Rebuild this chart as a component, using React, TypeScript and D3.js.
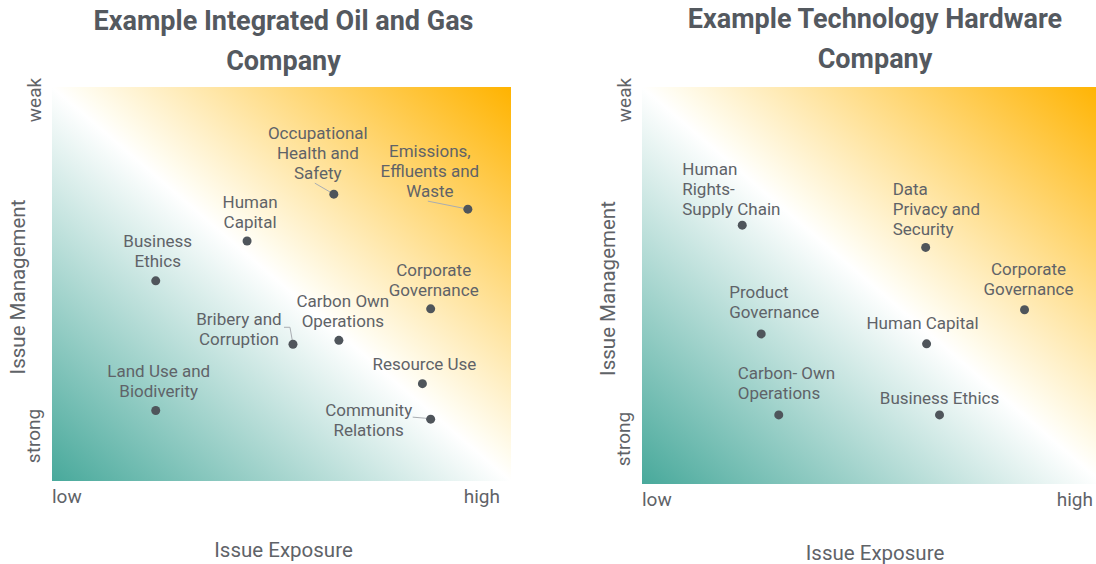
import React from 'react';
import * as d3 from 'd3';

// axis end labels
const exposureEnds = ['low', 'high'];
const managementEnds = ['strong', 'weak'];
const exposureTitle = 'Issue Exposure';
const managementTitle = 'Issue Management';

// left chart
const oilTitle = ['Example Integrated Oil and Gas', 'Company'];
const oilTopics = [
  'Occupational\nHealth and\nSafety',
  'Emissions,\nEffluents and\nWaste',
  'Human\nCapital',
  'Business\nEthics',
  'Corporate\nGovernance',
  'Carbon Own\nOperations',
  'Bribery and\nCorruption',
  'Resource Use',
  'Land Use and\nBiodiverity',
  'Community\nRelations',
];
const oilExposure = [6.14, 9.06, 4.25, 2.26, 8.25, 6.25, 5.25, 8.07, 2.26, 8.25];
const oilManagement = [7.28, 6.9, 6.09, 5.08, 4.37, 3.57, 3.47, 2.47, 1.79, 1.57];

// right chart
const techTitle = ['Example Technology Hardware', 'Company'];
const techTopics = [
  'Human\nRights-\nSupply Chain',
  'Data\nPrivacy and\nSecurity',
  'Corporate\nGovernance',
  'Product\nGovernance',
  'Human Capital',
  'Carbon- Own\nOperations',
  'Business Ethics',
];
const techExposure = [2.17, 6.14, 8.28, 2.58, 6.16, 2.96, 6.44];
const techManagement = [6.52, 5.96, 4.39, 3.78, 3.53, 1.74, 1.74];

// label placement relative to each dot (layout only)
type Lbl = { dx: number; dy: number; anchor: string; leader?: number[][] };
const oilLabels: Lbl[] = [
  { dx: -16, dy: -55, anchor: 'middle', leader: [[-19, -11], [0, 0]] },
  { dx: -38, dy: -52, anchor: 'middle', leader: [[-40, -8], [0, 0]] },
  { dx: 3, dy: -33, anchor: 'middle' },
  { dx: 2, dy: -34, anchor: 'middle' },
  { dx: 3, dy: -33, anchor: 'middle' },
  { dx: 4, dy: -33, anchor: 'middle' },
  { dx: -54, dy: -19, anchor: 'middle', leader: [[-9, -17], [-3, -17], [0, 0]] },
  { dx: 2, dy: -14, anchor: 'middle' },
  { dx: 3, dy: -33, anchor: 'middle' },
  { dx: -62, dy: -3, anchor: 'middle', leader: [[-18, -2], [-6, -1], [0, 0]] },
];
const techLabels: Lbl[] = [
  { dx: -60, dy: -50, anchor: 'start' },
  { dx: -33, dy: -52, anchor: 'start' },
  { dx: 4, dy: -35, anchor: 'middle' },
  { dx: -32, dy: -36, anchor: 'start' },
  { dx: -4, dy: -15, anchor: 'middle' },
  { dx: -41, dy: -36, anchor: 'start' },
  { dx: 0, dy: -11, anchor: 'middle' },
];

const FONT = 'Roboto, "Noto Sans", sans-serif';
const TEXT = '#5f6368';

function Panel(props: any) {
  const { id, box, title, topics, exposure, management, labels } = props;
  const x = d3.scaleLinear().domain([0, 10]).range([box.left, box.right]);
  const y = d3.scaleLinear().domain([0, 10]).range([box.bottom, box.top]);
  const cx = (box.left + box.right) / 2;
  const midY = (box.top + box.bottom) / 2;
  const line = d3.line();

  return (
    <g>
      <defs>
        <linearGradient id={id} x1="0" y1="1" x2="1" y2="0">
          <stop offset="0" stopColor="#48a99b" />
          <stop offset="0.5" stopColor="#ffffff" />
          <stop offset="0.53" stopColor="#fffcef" />
          <stop offset="1" stopColor="#ffb300" />
        </linearGradient>
      </defs>
      {title.map((t: string, i: number) => (
        <text key={i} x={cx + 2} y={box.titleY + i * 40} textAnchor="middle"
          fontFamily={FONT} fontWeight={700} fontSize={27} fill="#54595f">{t}</text>
      ))}
      <rect x={x(0)} y={y(10)} width={x(10) - x(0)} height={y(0) - y(10)} fill={`url(#${id})`} />

      {/* axis end labels */}
      <text x={x(0)} y={y(0) + 22} fontFamily={FONT} fontSize={19} fill={TEXT}>{exposureEnds[0]}</text>
      <text x={x(10) - 11} y={y(0) + 22} textAnchor="end" fontFamily={FONT} fontSize={19} fill={TEXT}>{exposureEnds[1]}</text>
      <text transform={`translate(${x(0) - 12},${y(0) - 45}) rotate(-90)`} textAnchor="middle"
        fontFamily={FONT} fontSize={19} fill={TEXT}>{managementEnds[0]}</text>
      <text transform={`translate(${x(0) - 11},${y(10) + 13}) rotate(-90)`} textAnchor="middle"
        fontFamily={FONT} fontSize={19} fill={TEXT}>{managementEnds[1]}</text>
      <text x={cx + 2} y={y(0) + 76} textAnchor="middle" fontFamily={FONT} fontSize={20.5} fill={TEXT}>{exposureTitle}</text>
      <text transform={`translate(${x(0) - 27},${midY + 3}) rotate(-90)`} textAnchor="middle"
        fontFamily={FONT} fontSize={20.5} fill={TEXT}>{managementTitle}</text>

      {topics.map((name: string, i: number) => {
        const px = x(exposure[i]);
        const py = y(management[i]);
        const l = labels[i];
        return (
          <g key={i}>
            {l.leader && (
              <path d={line(l.leader.map((p: number[]) => [px + p[0], py + p[1]]) as any) || ''}
                fill="none" stroke="#a9adb2" strokeWidth={1} />
            )}
            <circle cx={px} cy={py} r={4.5} fill="#4f555b" />
            <text textAnchor={l.anchor} fontFamily={FONT} fontSize={17} fill={TEXT}>
              {name.split('\n').map((s, j) => (
                <tspan key={j} x={px + l.dx} y={py + l.dy + j * 20}>{s}</tspan>
              ))}
            </text>
          </g>
        );
      })}
    </g>
  );
}

export default function App() {
  return (
    <svg width={1096} height={564} style={{ position: 'absolute', left: 0, top: 0, background: '#fff' }}>
      <Panel id="gradOil" box={{ left: 52, right: 511, top: 87, bottom: 481, titleY: 30 }}
        title={oilTitle} topics={oilTopics} exposure={oilExposure} management={oilManagement} labels={oilLabels} />
      <Panel id="gradTech" box={{ left: 642, right: 1104, top: 87, bottom: 484, titleY: 28 }}
        title={techTitle} topics={techTopics} exposure={techExposure} management={techManagement} labels={techLabels} />
    </svg>
  );
}
